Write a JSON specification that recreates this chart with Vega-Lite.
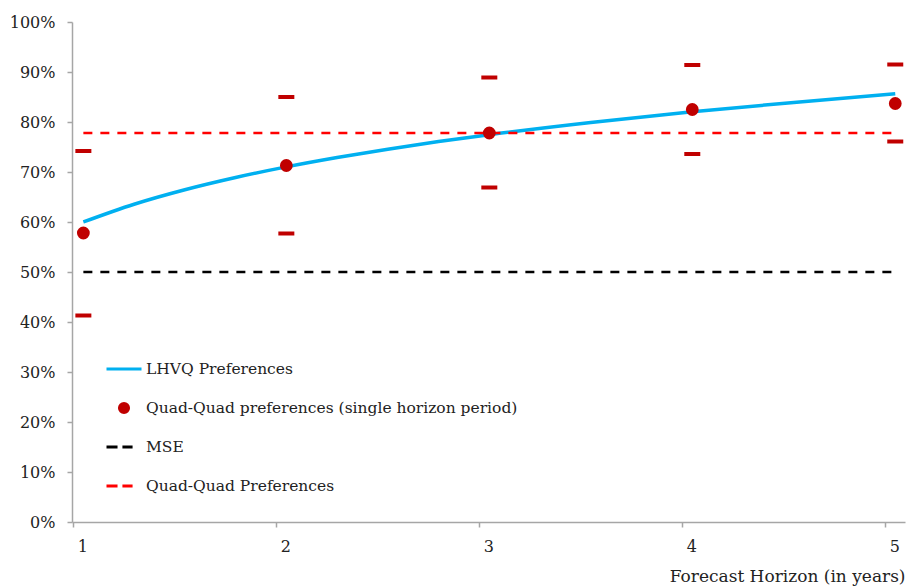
{
  "$schema": "https://vega.github.io/schema/vega-lite/v6.json",
  "width": 833,
  "height": 500,
  "autosize": {"type": "none"},
  "padding": {"left": 72, "top": 22, "right": 7, "bottom": 66},
  "background": "white",
  "config": {
    "view": {"stroke": null},
    "font": "DejaVu Serif",
    "axis": {
      "grid": false,
      "domainColor": "#a6a6a6",
      "domainWidth": 1.5,
      "tickColor": "#a6a6a6",
      "tickWidth": 1.5,
      "tickSize": 5,
      "labelFont": "DejaVu Serif",
      "labelFontSize": 16,
      "labelColor": "#222222",
      "titleFont": "DejaVu Serif",
      "titleFontSize": 17,
      "titleFontWeight": "normal",
      "titleColor": "#222222"
    }
  },
  "datasets": {
    "horizons": [
      {"h": 1, "qq": 57.8, "lo": 41.3, "hi": 74.2, "series": "Quad-Quad preferences (single horizon period)"},
      {"h": 2, "qq": 71.3, "lo": 57.7, "hi": 85.0, "series": "Quad-Quad preferences (single horizon period)"},
      {"h": 3, "qq": 77.8, "lo": 66.9, "hi": 88.9, "series": "Quad-Quad preferences (single horizon period)"},
      {"h": 4, "qq": 82.5, "lo": 73.6, "hi": 91.4, "series": "Quad-Quad preferences (single horizon period)"},
      {"h": 5, "qq": 83.7, "lo": 76.1, "hi": 91.5, "series": "Quad-Quad preferences (single horizon period)"}
    ],
    "lhvq": [
      {"h": 1.0, "v": 60.0},
      {"h": 1.25, "v": 63.55},
      {"h": 1.5, "v": 66.45},
      {"h": 1.75, "v": 68.9},
      {"h": 2.0, "v": 71.02},
      {"h": 2.25, "v": 72.89},
      {"h": 2.5, "v": 74.57},
      {"h": 2.75, "v": 76.08},
      {"h": 3.0, "v": 77.47},
      {"h": 3.5, "v": 79.92},
      {"h": 4.0, "v": 82.04},
      {"h": 4.5, "v": 83.92},
      {"h": 5.0, "v": 85.65}
    ],
    "benchmarks": [
      {"name": "MSE", "from": 1, "to": 5, "v": 50.0},
      {"name": "Quad-Quad Preferences", "from": 1, "to": 5, "v": 77.8}
    ]
  },
  "layer": [
    {
      "data": {"name": "benchmarks"},
      "transform": [{"filter": "datum.name === 'MSE'"}],
      "mark": {"type": "rule", "color": "#000000", "strokeWidth": 2.5, "strokeDash": [9, 8]},
      "encoding": {
        "x": {"field": "from", "type": "quantitative",
          "scale": {"domain": [0.944, 5.048], "nice": false, "zero": false},
          "axis": {
            "values": [1, 2, 3, 4, 5],
            "format": "d",
            "tickOffset": -10,
            "labelOffset": 9,
            "labelPadding": 11,
            "title": "Forecast Horizon (in years)",
            "titleAnchor": "end",
            "titlePadding": 14
          }
        },
        "x2": {"field": "to"},
        "y": {"field": "v", "type": "quantitative",
          "scale": {"domain": [0, 100], "nice": false},
          "axis": {
            "values": [0, 10, 20, 30, 40, 50, 60, 70, 80, 90, 100],
            "labelExpr": "datum.value + '%'",
            "labelPadding": 12,
            "title": null
          }
        }
      }
    },
    {
      "data": {"name": "lhvq"},
      "mark": {"type": "line", "color": "#00b0f0", "strokeWidth": 3.5, "interpolate": "monotone"},
      "encoding": {
        "x": {"field": "h", "type": "quantitative"},
        "y": {"field": "v", "type": "quantitative"}
      }
    },
    {
      "data": {"name": "benchmarks"},
      "transform": [{"filter": "datum.name === 'Quad-Quad Preferences'"}],
      "mark": {"type": "rule", "color": "#ff0000", "strokeWidth": 2.5, "strokeDash": [9, 8]},
      "encoding": {
        "x": {"field": "from", "type": "quantitative"},
        "x2": {"field": "to"},
        "y": {"field": "v", "type": "quantitative"}
      }
    },
    {
      "data": {"name": "horizons"},
      "mark": {"type": "tick", "orient": "horizontal", "color": "#c00000", "size": 16, "thickness": 4, "opacity": 1},
      "encoding": {
        "x": {"field": "h", "type": "quantitative"},
        "y": {"field": "hi", "type": "quantitative"}
      }
    },
    {
      "data": {"name": "horizons"},
      "mark": {"type": "tick", "orient": "horizontal", "color": "#c00000", "size": 16, "thickness": 4, "opacity": 1},
      "encoding": {
        "x": {"field": "h", "type": "quantitative"},
        "y": {"field": "lo", "type": "quantitative"}
      }
    },
    {
      "data": {"name": "horizons"},
      "mark": {"type": "point", "filled": false, "opacity": 1, "size": 606, "strokeWidth": 6.4},
      "encoding": {
        "x": {"field": "h", "type": "quantitative"},
        "y": {"field": "qq", "type": "quantitative"},
        "color": {
          "field": "series",
          "type": "nominal",
          "scale": {
            "domain": ["LHVQ Preferences", "Quad-Quad preferences (single horizon period)", "MSE", "Quad-Quad Preferences"],
            "range": ["#00b0f0", "#c00000", "#000000", "#ff0000"]
          },
          "legend": {
            "title": null,
            "orient": "none",
            "legendX": 33,
            "legendY": 328,
            "symbolSize": 1225,
            "symbolStrokeWidth": 3,
            "symbolOpacity": 1,
            "labelOffset": 3,
            "gridAlign": "all",
            "rowPadding": 9,
            "labelFont": "DejaVu Serif",
            "labelFontSize": 15.5,
            "labelColor": "#222222",
            "labelLimit": 500
          }
        },
        "shape": {
          "field": "series",
          "type": "nominal",
          "scale": {
            "domain": ["LHVQ Preferences", "Quad-Quad preferences (single horizon period)", "MSE", "Quad-Quad Preferences"],
            "range": [
              "M-1,0H1",
              "M-0.26,0A0.26,0.26,0,1,1,0.26,0A0.26,0.26,0,1,1,-0.26,0ZM-0.12,0A0.12,0.12,0,1,1,0.12,0A0.12,0.12,0,1,1,-0.12,0ZM-0.03,0H0.03",
              "M-1,0H-0.37M-0.09,0H0.49",
              "M-1,0H-0.37M-0.09,0H0.49"
            ]
          },
          "legend": {
            "title": null,
            "orient": "none",
            "legendX": 33,
            "legendY": 328,
            "symbolSize": 1225,
            "symbolStrokeWidth": 3,
            "symbolOpacity": 1,
            "labelOffset": 3,
            "gridAlign": "all",
            "rowPadding": 9,
            "labelFont": "DejaVu Serif",
            "labelFontSize": 15.5,
            "labelColor": "#222222",
            "labelLimit": 500
          }
        }
      }
    }
  ]
}
